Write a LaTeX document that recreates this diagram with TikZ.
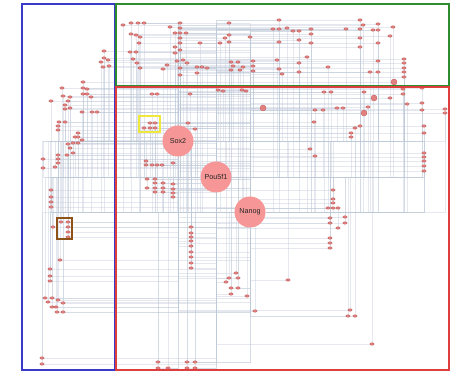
\documentclass[tikz,border=0pt]{standalone}
\usepackage{fontspec}
\setsansfont{Liberation Sans}
\usetikzlibrary{shapes.geometric,backgrounds}
\definecolor{GrnPink}{RGB}{246,150,150}
\definecolor{GrnGene}{RGB}{226,128,128}
\definecolor{GrnGeneEdge}{RGB}{186,88,88}
\definecolor{GrnWire}{RGB}{190,202,216}
\definecolor{GrnBlue}{RGB}{58,58,200}
\definecolor{GrnGreen}{RGB}{46,140,46}
\definecolor{GrnRed}{RGB}{222,62,62}
\definecolor{GrnYellow}{RGB}{240,232,60}
\definecolor{GrnBrown}{RGB}{140,82,24}
\tikzset{
  grn/gene/.style={
    ellipse,
    fill=GrnGene,
    draw=GrnGeneEdge,
    line width=0.3pt,
    inner sep=0pt,
    minimum width=4.4pt,
    minimum height=2.5pt
  },
  grn/biggene/.style={circle, fill=GrnGene, draw=GrnGeneEdge, line width=0.3pt, inner sep=0pt, minimum size=6pt},
  grn/hub/.style={
    circle,
    fill=GrnPink,
    inner sep=0pt,
    minimum size=31pt,
    text=black!85,
    font=\sffamily\fontsize{7.2}{8}\selectfont
  },
  grn/wire/.style={draw=GrnWire, line width=0.6pt, opacity=0.4},
  grn/frame/.style={line width=1.2pt}
}

\begin{document}
\begin{tikzpicture}[x=1pt,y=-1pt]
  \useasboundingbox (0,0) rectangle (455,371);
  % hubs
  \node[grn/hub] (hub0) at (178,141) {Sox2};
  \node[grn/hub] (hub1) at (216,177) {Pou5f1};
  \node[grn/hub] (hub2) at (250,212) {Nanog};
  % target genes
  \foreach \x/\y [count=\i] in {
    123/25,131/23,138/23,144/23,131/34,136/35,140/37,139/43,130/52,136/52,133/59,137/63,140/68,
    170/27,180/23,180/28,175/33,180/33,186/33,180/38,180/43,175/47,180/50,175/53,200/43,220/43,225/38,229/35,229/42,229/23,
    177/61,183/60,187/63,167/65,163/69,180/68,197/67,202/67,207/68,197/73,180/75,
    279/20,273/29,279/29,287/28,293/31,299/31,311/29,311/34,311/43,299/40,279/42,250/37,
    346/29,360/20,363/25,360/29,360/38,360/47,378/24,373/30,378/30,393/27,390/36,378/43,378/61,370/72,378/72,
    277/60,279/69,282/74,299/63,299/72,307/57,328/67,
    231/62,233/66,231/70,238/62,243/67,240/70,253/61,253/66,253/71,
    404/59,404/63,404/68,404/72,404/77,
    104/51,101/62,104/58,108/60,103/67,109/66,
    83/82,62/88,83/88,87/89,63/96,83/94,87/94,91/97,70/97,68/101,51/101,65/105,70/108,65/109,82/112,92/112,97/112,
    59/122,65/122,58/126,58/130,
    78/133,75/137,78/137,82/140,73/143,78/143,68/144,70/148,73/153,58/155,67/155,58/159,43/159,58/163,43/168,55/167,
    51/190,51/197,51/202,51/207,
    61/222,68/222,68/227,68/232,68/237,53/227,
    60/260,50/269,50/276,50/281,
    45/298,52/298,48/302,58/300,63/303,52/307,56/307,57/312,63/312,
    42/358,42/364,
    152/94,157/94,190/94,218/90,223/91,242/90,246/91,
    144/128,150/123,155/123,150/128,155/128,
    188/123,195/129,
    146/161,146/165,152/165,157/165,162/165,173/163,
    147/179,155/179,155/183,163/183,173/184,147/188,155/188,163/188,173/189,155/192,163/192,173/193,173/197,
    191/227,191/233,191/237,191/241,191/246,191/252,191/257,191/263,191/268,
    324/92,331/92,364/92,390/98,403/89,403/94,407/104,422/88,422/103,422/110,445/109,445/113,
    368/107,315/110,323/110,337/108,343/108,314/122,360/126,355/128,351/133,351/137,310/149,315/156,
    424/126,424/133,424/153,424/157,424/161,424/166,424/171,
    333/190,333/199,333/203,328/208,333/208,338/208,345/217,345/223,330/218,330/223,338/228,330/238,330/243,330/248,
    288/280,226/282,229/278,236/273,238/278,231/288,238/288,231/294,247/296,255/311,
    350/310,348/316,355/316,372/344,
    158/362,158/368,168/368,187/362,195/362,187/368,195/368}
    {\node[grn/gene] (g\i) at (\x,\y) {}; \xdef\ngenes{\i}}
  \node[grn/biggene] (b1) at (263,108) {};
  \node[grn/biggene] (b2) at (374,98) {};
  \node[grn/biggene] (b3) at (364,113) {};
  \node[grn/biggene] (b4) at (394,82) {};
  % wires
  \begin{scope}[on background layer]
    \fill[white] (0,0) rectangle (455,371);
    \foreach \i in {1,...,\ngenes}{
      \pgfmathtruncatemacro\h{mod(\i,3)}
      \pgfmathtruncatemacro\k{mod(\i+1,3)}
      \ifodd\i
        \draw[grn/wire] (g\i) -| (hub\h);
        \draw[grn/wire] (g\i) |- (hub\k);
      \else
        \draw[grn/wire] (g\i) |- (hub\h);
        \draw[grn/wire] (g\i) -| (hub\k);
      \fi
    }
    \foreach \b/\h in {b1/0,b2/1,b3/2,b4/0}{\draw[grn/wire] (\b) -| (hub\h);}
    \draw[grn/wire] (hub0) |- (hub1);
    \draw[grn/wire] (hub1) |- (hub2);
    \draw[grn/wire] (hub0) -| (hub2);
  \end{scope}
  % module frames
  \draw[grn/frame, GrnBlue] (22,4) rectangle (115,370);
  \draw[grn/frame, GrnGreen] (116,4) rectangle (449,86);
  \draw[grn/frame, GrnRed] (116,87) rectangle (449,370);
  \draw[grn/frame, GrnYellow] (139,116) rectangle (160,132);
  \draw[grn/frame, GrnBrown] (57,218) rectangle (72,239);
\end{tikzpicture}
\end{document}
